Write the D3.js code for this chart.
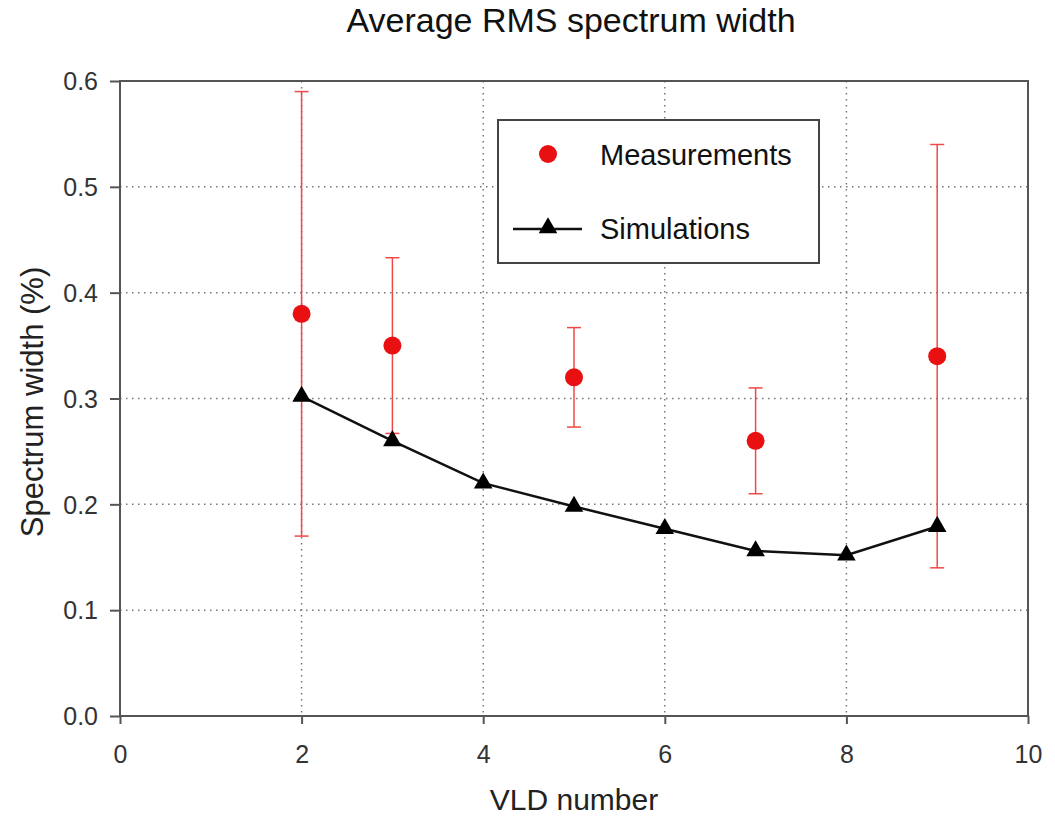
<!DOCTYPE html>
<html>
<head>
<meta charset="utf-8">
<script src="https://cdn.jsdelivr.net/npm/d3@7"></script>
<style>
  body { margin: 0; background: #fff; }
  text { font-family: Arial, "Liberation Sans", sans-serif; }
</style>
</head>
<body>
<div id="chart"></div>
<script>
// *** Average RMS spectrum width ***

// Data
let measX = [2, 3, 5, 7, 9];
let measY = [0.38, 0.35, 0.32, 0.26, 0.34];
let measLow = [0.17, 0.267, 0.273, 0.21, 0.14];
let measHigh = [0.59, 0.433, 0.367, 0.31, 0.54];

let simX = [2, 3, 4, 5, 6, 7, 8, 9];
let simY = [0.302, 0.26, 0.22, 0.198, 0.177, 0.156, 0.152, 0.179];

let xTicks = [0, 2, 4, 6, 8, 10];
let yTicks = [0, 0.1, 0.2, 0.3, 0.4, 0.5, 0.6];

let svgWidth = 1055;
let svgHeight = 819;

let margin = { top: 81, right: 27, bottom: 103, left: 120 };
let width = svgWidth - margin.left - margin.right;
let height = svgHeight - margin.top - margin.bottom;

let svg = d3.select("#chart")
    .append("svg")
    .attr("width", svgWidth)
    .attr("height", svgHeight);

let chartGroup = svg.append("g")
    .attr("transform", `translate(${margin.left},${margin.top})`);

let xScale = d3.scaleLinear().domain([0, 10]).range([0, width]);
let yScale = d3.scaleLinear().domain([0, 0.6]).range([height, 0]);

// dotted grid lines
chartGroup.append("g")
    .selectAll("line")
    .data(xTicks.filter(d => d > 0 && d < 10))
    .enter()
    .append("line")
    .attr("x1", d => xScale(d)).attr("x2", d => xScale(d))
    .attr("y1", 0).attr("y2", height)
    .attr("stroke", "#777")
    .attr("stroke-width", 1.5)
    .attr("stroke-dasharray", "1.5,4.5");

chartGroup.append("g")
    .selectAll("line")
    .data(yTicks.filter(d => d > 0 && d < 0.6))
    .enter()
    .append("line")
    .attr("x1", 0).attr("x2", width)
    .attr("y1", d => yScale(d)).attr("y2", d => yScale(d))
    .attr("stroke", "#777")
    .attr("stroke-width", 1.5)
    .attr("stroke-dasharray", "1.5,4.5");

// axes
let bottomAxis = d3.axisBottom(xScale).tickValues(xTicks).tickSize(8).tickFormat(d3.format("d"));
let leftAxis = d3.axisLeft(yScale).tickValues(yTicks).tickSize(10).tickFormat(d3.format(".1f"));

let xAxis = chartGroup.append("g")
    .attr("transform", `translate(0, ${height})`)
    .call(bottomAxis);
let yAxis = chartGroup.append("g")
    .call(leftAxis);

[xAxis, yAxis].forEach(function(ax) {
    ax.select(".domain").remove();
    ax.selectAll("line").attr("stroke", "#555").attr("stroke-width", 2);
    ax.selectAll("text")
        .attr("fill", "#333")
        .attr("font-size", "25px");
});
xAxis.selectAll("text").attr("y", 29).attr("dy", "0.71em");
yAxis.selectAll("text").attr("x", -22).attr("dy", "0.35em");

// frame
chartGroup.append("rect")
    .attr("x", 0).attr("y", 0)
    .attr("width", width).attr("height", height)
    .attr("fill", "none")
    .attr("stroke", "#555")
    .attr("stroke-width", 2);

// error bars
let errGroup = chartGroup.append("g");
measX.forEach(function(x, i) {
    let cx = xScale(x);
    errGroup.append("line")
        .attr("x1", cx).attr("x2", cx)
        .attr("y1", yScale(measLow[i])).attr("y2", yScale(measHigh[i]))
        .attr("stroke", "#f04848").attr("stroke-width", 1.5);
    [measLow[i], measHigh[i]].forEach(function(v) {
        errGroup.append("line")
            .attr("x1", cx - 7).attr("x2", cx + 7)
            .attr("y1", yScale(v)).attr("y2", yScale(v))
            .attr("stroke", "#f04848").attr("stroke-width", 1.5);
    });
});

// simulations line
let simData = simX.map((x, i) => ({ x: x, y: simY[i] }));
let line = d3.line().x(d => xScale(d.x)).y(d => yScale(d.y));

chartGroup.append("path")
    .datum(simData)
    .attr("d", line)
    .attr("fill", "none")
    .attr("stroke", "#111")
    .attr("stroke-width", 2.5);

let triangle = d3.symbol().type(d3.symbolTriangle).size(150);

chartGroup.selectAll(".sim")
    .data(simData)
    .enter()
    .append("path")
    .attr("class", "sim")
    .attr("d", triangle)
    .attr("transform", d => `translate(${xScale(d.x)},${yScale(d.y)})`)
    .attr("fill", "#000");

// measurements
let measData = measX.map((x, i) => ({ x: x, y: measY[i] }));
chartGroup.selectAll(".meas")
    .data(measData)
    .enter()
    .append("circle")
    .attr("class", "meas")
    .attr("cx", d => xScale(d.x))
    .attr("cy", d => yScale(d.y))
    .attr("r", 9)
    .attr("fill", "#e81010");

// legend
let legend = svg.append("g").attr("transform", "translate(498,120)");
legend.append("rect")
    .attr("width", 321).attr("height", 143)
    .attr("fill", "#fff")
    .attr("stroke", "#444")
    .attr("stroke-width", 2);
legend.append("circle")
    .attr("cx", 50).attr("cy", 34).attr("r", 9)
    .attr("fill", "#e81010");
legend.append("text")
    .attr("x", 102).attr("y", 45)
    .attr("font-size", "29px").attr("fill", "#111")
    .text("Measurements");
legend.append("line")
    .attr("x1", 15).attr("x2", 84)
    .attr("y1", 109).attr("y2", 109)
    .attr("stroke", "#111").attr("stroke-width", 2.5);
legend.append("path")
    .attr("d", triangle)
    .attr("transform", "translate(50,108)")
    .attr("fill", "#000");
legend.append("text")
    .attr("x", 102).attr("y", 119)
    .attr("font-size", "29px").attr("fill", "#111")
    .text("Simulations");

// title and axis labels
svg.append("text")
    .attr("x", 571).attr("y", 32)
    .attr("text-anchor", "middle")
    .attr("font-size", "34px").attr("fill", "#111")
    .text("Average RMS spectrum width");

svg.append("text")
    .attr("x", 574).attr("y", 810)
    .attr("text-anchor", "middle")
    .attr("font-size", "30px").attr("fill", "#222")
    .text("VLD number");

svg.append("text")
    .attr("transform", "translate(43, 402) rotate(-90)")
    .attr("text-anchor", "middle")
    .attr("font-size", "31px").attr("fill", "#222")
    .text("Spectrum width (%)");
</script>
</body>
</html>
